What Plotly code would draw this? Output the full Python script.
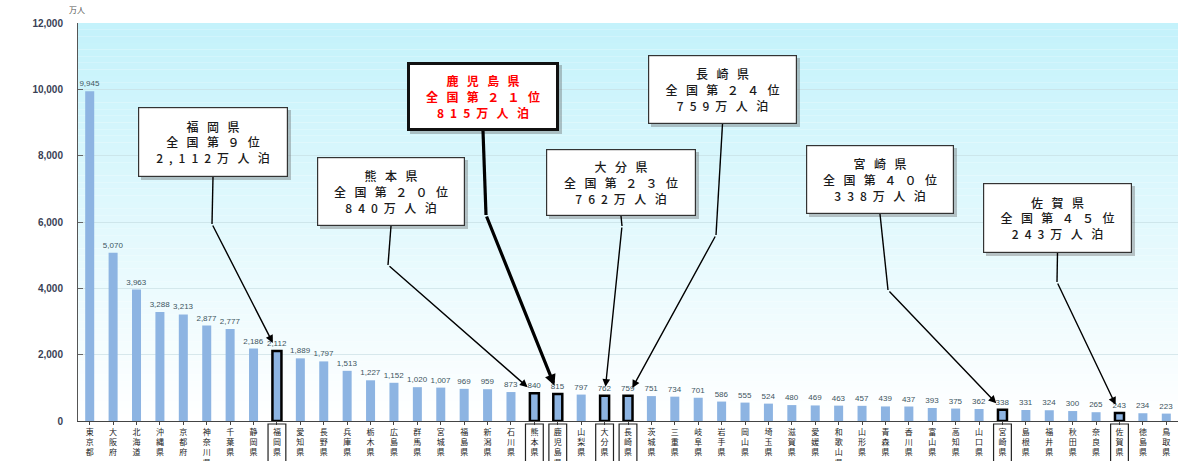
import plotly.graph_objects as go

# ---------------- data ----------------
prefectures = ["東京都", "大阪府", "北海道", "沖縄県", "京都府", "神奈川県", "千葉県", "静岡県",
               "福岡県", "愛知県", "長野県", "兵庫県", "栃木県", "広島県", "群馬県", "宮城県",
               "福島県", "新潟県", "石川県", "熊本県", "鹿児島県", "山梨県", "大分県", "長崎県",
               "茨城県", "三重県", "岐阜県", "岩手県", "岡山県", "埼玉県", "滋賀県", "愛媛県",
               "和歌山県", "山形県", "青森県", "香川県", "富山県", "高知県", "山口県", "宮崎県",
               "島根県", "福井県", "秋田県", "奈良県", "佐賀県", "徳島県", "鳥取県"]
guest_nights = [9945, 5070, 3963, 3288, 3213, 2877, 2777, 2186, 2112, 1889, 1797, 1513,
                1227, 1152, 1020, 1007, 969, 959, 873, 840, 815, 797, 762, 759, 751, 734,
                701, 586, 555, 524, 480, 469, 463, 457, 439, 437, 393, 375, 362, 338, 331,
                324, 300, 265, 243, 234, 223]
highlighted = ["福岡県", "熊本県", "鹿児島県", "大分県", "長崎県", "宮崎県", "佐賀県"]
featured = "鹿児島県"
y_ticks = [0, 2000, 4000, 6000, 8000, 10000, 12000]
unit_label = "万人"

# ---------------- layout geometry (pixels) ----------------
W, H = 1178, 461
L, R, T, B = 78, 1178, 23, 421
YMAX = 12000
N = len(prefectures)

# callout boxes: left, top, right, bottom, bend_x, bend_y  (pixels)
callouts = {
    "福岡県":   (138, 107, 288, 177, 212, 224),
    "熊本県":   (317, 157, 465, 226, 388, 265),
    "鹿児島県": (407, 62, 559, 131, 486, 215),
    "大分県":   (546, 149, 696, 216, 622, 226),
    "長崎県":   (648, 55, 797, 124, 716, 235),
    "宮崎県":   (806, 145, 954, 214, 888, 290),
    "佐賀県":   (983, 183, 1132, 253, 1057, 282),
}


def pxp(px):
    return (px - L) / (R - L)


def pyp(py):
    return (B - py) / (B - T)


def pxd(px):
    return (px - L) / ((R - L) / N) - 0.5


def pyd(py):
    return (B - py) / (B - T) * YMAX


FW = {str(d): chr(0xFF10 + d) for d in range(10)}
EN, THIN = "\u2002", "\u2009"


def spaced(s):
    out = ""
    for i, ch in enumerate(s):
        out += ch
        if i < len(s) - 1:
            if ch.isascii():
                out += EN
            else:
                out += EN + THIN
    return out


bar_color = "#8DB4E2"
line_w = [2.5 if p in highlighted else 0 for p in prefectures]

fig = go.Figure()
fig.add_trace(go.Bar(
    x=list(range(N)),
    y=guest_nights,
    marker=dict(color=bar_color, line=dict(color="#000000", width=line_w)),
    texttemplate="%{y:,}",
    textposition="outside",
    constraintext="none",
    cliponaxis=False,
    textfont=dict(size=8, color="#3d5560", family="Liberation Sans"),
    hoverinfo="skip",
    showlegend=False,
))

shapes = []
# gradient background of plotting area
steps = 60
top_rgb = (196, 242, 251)
bot_rgb = (255, 255, 255)
for k in range(steps):
    f = k / (steps - 1)
    c = tuple(round(top_rgb[j] + (bot_rgb[j] - top_rgb[j]) * f) for j in range(3))
    shapes.append(dict(type="rect", xref="paper", yref="paper",
                       x0=0, x1=1, y0=1 - (k + 1) / steps, y1=1 - k / steps,
                       fillcolor="rgb(%d,%d,%d)" % c, line=dict(width=0), layer="below"))

# boxes around highlighted tick labels
for p in highlighted:
    i = prefectures.index(p)
    shapes.append(dict(type="rect", xref="x", yref="paper",
                       x0=i - 0.38, x1=i + 0.38, y0=pyp(475), y1=pyp(424),
                       line=dict(color="#222222", width=1.2), fillcolor="rgba(0,0,0,0)"))

annotations = []
for p in highlighted:
    i = prefectures.index(p)
    v = guest_nights[i]
    rank = i + 1
    l, t, r, b, bx, by = callouts[p]
    is_feat = p == featured
    bw = 3 if is_feat else 1.2
    # shadow
    shapes.append(dict(type="rect", xref="paper", yref="paper",
                       x0=pxp(l + 3), x1=pxp(r + 3), y0=pyp(b + 3), y1=pyp(t + 3),
                       fillcolor="rgba(90,90,90,0.35)", line=dict(width=0), layer="above"))
    # connector from box bottom to bend
    cx = (l + r) / 2
    shapes.append(dict(type="line", xref="paper", yref="paper",
                       x0=pxp(cx), x1=pxp(bx), y0=pyp(b), y1=pyp(by),
                       line=dict(color="#000000", width=bw + 0.2), layer="above"))
    rank_txt = "".join(FW[d] for d in str(rank))
    lines = [spaced(p), spaced("全国第" + rank_txt + "位"), spaced(f"{v:,}万人泊")]
    txt = "<br>".join(lines)
    annotations.append(dict(
        xref="paper", yref="paper", x=pxp(cx), y=pyp((t + b) / 2),
        xanchor="center", yanchor="middle", showarrow=False,
        text=txt, align="center",
        width=(r - l) - 2 * bw, height=(b - t) - 2 * bw, borderpad=0,
        bgcolor="#ffffff", bordercolor="#111111" if is_feat else "#333333", borderwidth=bw,
        font=dict(family="Noto Sans CJK JP", size=12,
                  color="#ff0000" if is_feat else "#1a1a1a",
                  weight="bold" if is_feat else 500),
    ))
    # arrow from bend to bar
    annotations.append(dict(
        xref="x", yref="y", x=i, y=v, axref="x", ayref="y",
        ax=pxd(bx), ay=pyd(by), text="", showarrow=True,
        arrowhead=2, arrowsize=1.1 if not is_feat else 0.7, arrowwidth=bw + 0.2,
        arrowcolor="#000000", standoff=9,
    ))

annotations.append(dict(xref="paper", yref="paper", x=pxp(77), y=pyp(10),
                        xanchor="center", yanchor="middle", showarrow=False,
                        text=unit_label,
                        font=dict(family="Noto Sans CJK JP", size=8, color="#555555")))

fig.update_layout(
    width=W, height=H, autosize=False,
    margin=dict(l=L, r=W - R, t=T, b=H - B, pad=0),
    paper_bgcolor="#ffffff", plot_bgcolor="#ffffff",
    bargap=0.615,
    shapes=shapes, annotations=annotations,
    xaxis=dict(
        range=[-0.5, N - 0.5], automargin=False,
        tickmode="array", tickvals=list(range(N)),
        ticktext=["<br>".join(p) for p in prefectures],
        tickfont=dict(family="Noto Sans CJK JP", size=8, color="#222222"),
        ticks="outside", tickson="boundaries", ticklen=3, tickcolor="#444444",
        showline=True, linecolor="#444444", linewidth=1,
        showgrid=False, zeroline=False, fixedrange=True,
    ),
    yaxis=dict(
        range=[0, YMAX], automargin=False, tickmode="array", tickvals=y_ticks,
        ticktext=[f"{v:,}" for v in y_ticks],
        tickfont=dict(family="Liberation Sans", size=10, color="#3a3f55", weight="bold"),
        ticks="inside", ticklen=5, tickcolor="#666666", ticklabelstandoff=12,
        showline=True, linecolor="#555555", linewidth=1,
        showgrid=True, gridcolor="rgba(190,215,220,0.55)", gridwidth=1,
        zeroline=False, fixedrange=True,
    ),
)

fig.write_html("out.html", config={"displayModeBar": False},
               post_script="document.body.style.margin='0';")
